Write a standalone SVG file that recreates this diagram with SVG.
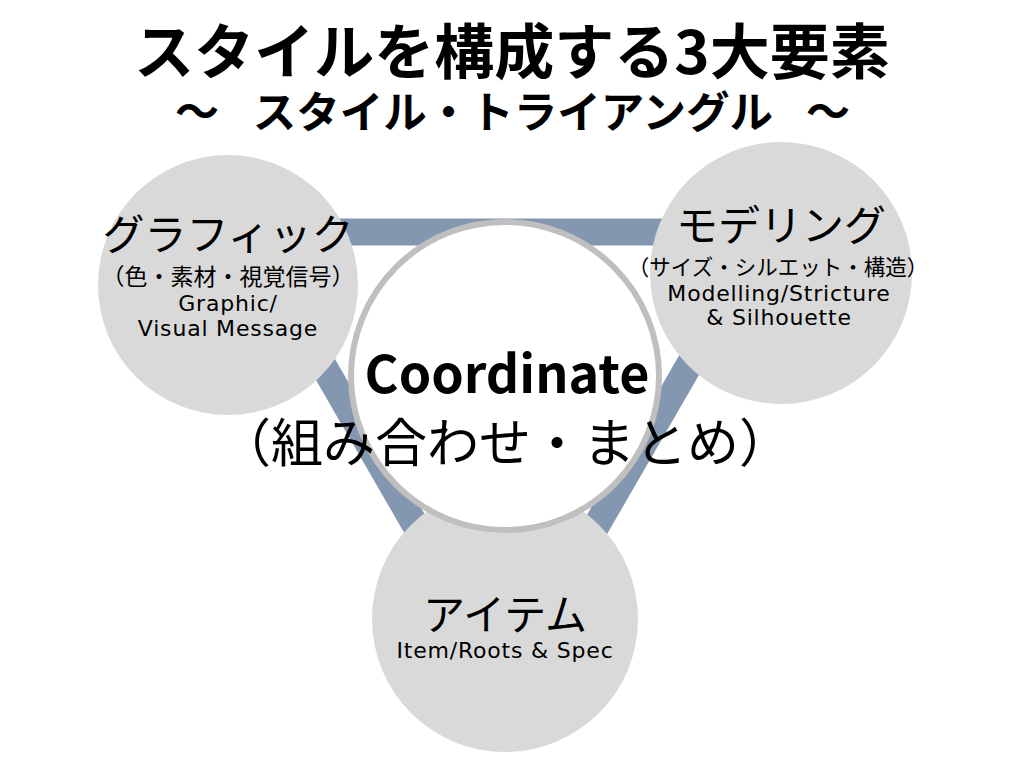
<svg xmlns="http://www.w3.org/2000/svg" width="1024" height="769" viewBox="0 0 1024 769">
<style>
.jp{font-family:"Noto Sans CJK JP","Noto Sans",sans-serif;fill:#000;text-anchor:middle}
.b{font-weight:700}
.node{fill:#D9D9D9}
.lat{font-family:"DejaVu Sans","Noto Sans",sans-serif;fill:#000;text-anchor:middle;font-size:22px;letter-spacing:0.8px}
</style>
<rect width="1024" height="769" fill="#fff"/>
<g id="title">
<text class="jp b" x="512" y="74" font-size="60">スタイルを構成する3大要素</text>
<text class="jp b" x="197" y="128" font-size="44">～</text>
<text class="jp b" x="513" y="128" font-size="43.5">スタイル・トライアングル</text>
<text class="jp b" x="828" y="128" font-size="44">～</text>
</g>
<g id="connectors">
<polygon points="246,232 766,232 506,682" fill="none" stroke="#8497B0" stroke-width="27" stroke-linejoin="miter"/>
</g>
<g id="node-graphic">
<circle class="node" cx="228" cy="285" r="130"/>
<text class="jp" x="228" y="250" font-size="42">グラフィック</text>
<text class="jp" x="228" y="285" font-size="23">（色・素材・視覚信号）</text>
<text class="lat" x="228" y="311">Graphic/</text>
<text class="lat" x="228" y="336">Visual Message</text>
</g>
<g id="node-modeling">
<circle class="node" cx="781" cy="273" r="131"/>
<text class="jp" x="781" y="241" font-size="42">モデリング</text>
<text class="jp" x="778" y="275" font-size="21.5">（サイズ・シルエット・構造）</text>
<text class="lat" x="779" y="301">Modelling/Stricture</text>
<text class="lat" x="779" y="325">&amp; Silhouette</text>
</g>
<g id="node-item">
<circle class="node" cx="505" cy="619" r="133"/>
<text class="jp" x="505" y="630" font-size="42">アイテム</text>
<text class="lat" x="505" y="658">Item/Roots &amp; Spec</text>
</g>
<g id="node-coordinate">
<circle cx="505" cy="376" r="154" fill="#fff" stroke="#BFBFBF" stroke-width="6"/>
<text class="jp b" x="507" y="393" font-size="52">Coordinate</text>
<text class="jp" x="505" y="462" font-size="52">（組み合わせ・まとめ）</text>
</g>
</svg>
